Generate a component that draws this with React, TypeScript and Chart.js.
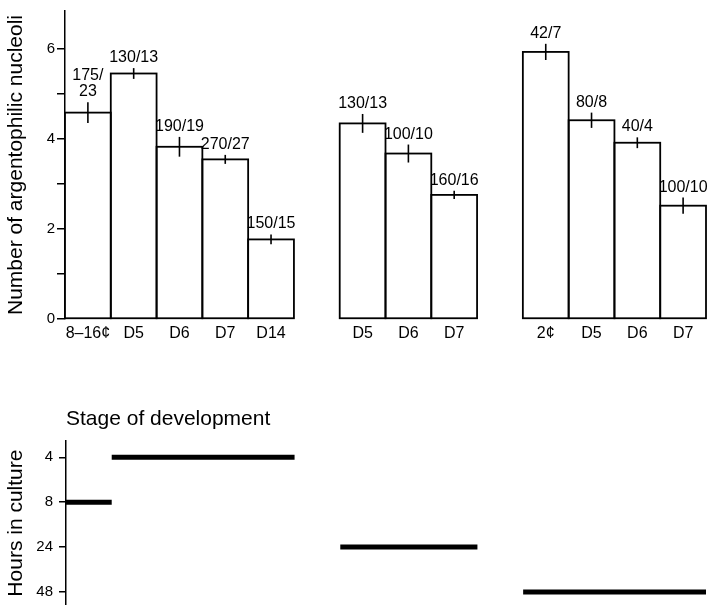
import React, { useEffect, useRef } from 'react';
import { Chart, registerables } from 'chart.js';

Chart.register(...registerables);

const FONT = '"Liberation Sans", Arial, Helvetica, sans-serif';
const INK = '#000';

// ---- top panel data ----
const stageLabels = ['8–16¢', 'D5', 'D6', 'D7', 'D14', '', 'D5', 'D6', 'D7', '', '2¢', 'D5', 'D6', 'D7'];
const nucleoliMeans: (number | null)[] = [4.59, 5.46, 3.83, 3.55, 1.77, null, 4.35, 3.68, 2.76, null, 5.94, 4.42, 3.92, 2.52];
const nucleoliErrors: (number | null)[] = [0.23, 0.12, 0.22, 0.1, 0.11, null, 0.21, 0.2, 0.09, null, 0.18, 0.17, 0.12, 0.18];
const sampleLabels = ['175/\n23', '130/13', '190/19', '270/27', '150/15', '', '130/13', '100/10', '160/16', '', '42/7', '80/8', '40/4', '100/10'];
const nucleoliMax = 6.85;

// ---- bottom panel data ----
const hoursTicks = ['4', '8', '24', '48'];
const cultureHours = ['8', '4', '24', '48'];
const spanStart = [0, 1, 6, 10];
const spanEnd = [1, 5, 9, 14];

const barDecor = {
  id: 'barDecor',
  afterDatasetsDraw(chart: any) {
    const ctx = chart.ctx;
    const meta = chart.getDatasetMeta(0);
    const ys = chart.scales.y;
    ctx.save();
    meta.data.forEach((el: any, i: number) => {
      const v = nucleoliMeans[i];
      if (v == null) return;
      const { x, y: top, base, width } = el.getProps(['x', 'y', 'base', 'width'], true);
      ctx.strokeStyle = INK;
      ctx.lineWidth = 1.8;
      ctx.strokeRect(x - width / 2, top, width, base - top);
      const e = nucleoliErrors[i] ?? 0;
      const hi = ys.getPixelForValue(v + e);
      const lo = ys.getPixelForValue(v - e);
      ctx.lineWidth = 1.6;
      ctx.beginPath();
      ctx.moveTo(x, hi);
      ctx.lineTo(x, lo);
      ctx.stroke();
      ctx.fillStyle = INK;
      ctx.font = `16px ${FONT}`;
      ctx.textAlign = 'center';
      ctx.textBaseline = 'alphabetic';
      const lines = sampleLabels[i].split('\n');
      lines.forEach((ln, k) => {
        ctx.fillText(ln, x, hi - 6 - (lines.length - 1 - k) * 16);
      });
    });
    ctx.restore();
  },
};

export default function App() {
  const topRef = useRef<HTMLCanvasElement>(null);
  const botRef = useRef<HTMLCanvasElement>(null);

  useEffect(() => {
    const top = new Chart(topRef.current as HTMLCanvasElement, {
      type: 'bar',
      data: {
        labels: stageLabels,
        datasets: [
          {
            data: nucleoliMeans as any,
            backgroundColor: '#fff',
            borderWidth: 0,
            barPercentage: 1,
            categoryPercentage: 1,
          },
        ],
      },
      options: {
        animation: false,
        responsive: false,
        maintainAspectRatio: false,
        layout: { padding: { top: 10, right: 9, left: 0, bottom: 0 } },
        plugins: { legend: { display: false }, tooltip: { enabled: false } },
        scales: {
          x: {
            grid: { display: false, drawTicks: false },
            border: { display: false },
            ticks: {
              autoSkip: false,
              maxRotation: 0,
              color: INK,
              font: { family: FONT, size: 16 },
              padding: 5,
            },
            afterFit: (s: any) => {
              s.height = 31;
            },
          },
          y: {
            min: 0,
            max: nucleoliMax,
            ticks: {
              stepSize: 1,
              includeBounds: false,
              callback: (v: any) => (Number(v) % 2 === 0 ? String(v) : ''),
              color: INK,
              font: { family: FONT, size: 15 },
              padding: 2,
            },
            grid: { drawOnChartArea: false, drawTicks: true, tickLength: 8, color: INK, lineWidth: 1.5 },
            border: { display: true, color: INK, width: 1.5 },
            title: {
              display: true,
              text: 'Number of argentophilic nucleoli',
              color: INK,
              font: { family: FONT, size: 21 },
              padding: { top: 4, bottom: 0 },
            },
            afterFit: (s: any) => {
              s.width = 65;
            },
          },
        },
      },
      plugins: [barDecor],
    } as any);

    const bot = new Chart(botRef.current as HTMLCanvasElement, {
      type: 'line',
      data: {
        datasets: cultureHours.map((h, i) => ({
          data: [
            { x: spanStart[i], y: hoursTicks.indexOf(h) },
            { x: spanEnd[i], y: hoursTicks.indexOf(h) },
          ],
          borderColor: INK,
          borderWidth: 5,
          pointRadius: 0,
          borderCapStyle: 'butt',
        })),
      },
      options: {
        animation: false,
        responsive: false,
        maintainAspectRatio: false,
        layout: { padding: { top: 0, right: 9, left: 0, bottom: 0 } },
        plugins: {
          legend: { display: false },
          tooltip: { enabled: false },
          title: {
            display: true,
            text: 'Stage of development',
            align: 'start',
            fullSize: false,
            color: INK,
            font: { family: FONT, size: 21, weight: 'normal' },
            padding: { top: 27, bottom: 9 },
          },
        },
        scales: {
          x: { type: 'linear', min: 0, max: 14, display: false },
          y: {
            type: 'linear',
            reverse: true,
            min: -0.36,
            max: 3.29,
            ticks: {
              stepSize: 1,
              includeBounds: false,
              callback: (v: any) => hoursTicks[Number(v)] ?? '',
              color: INK,
              font: { family: FONT, size: 15 },
              padding: 6,
            },
            grid: { drawOnChartArea: false, drawTicks: true, tickLength: 7, color: INK, lineWidth: 1.5 },
            border: { display: true, color: INK, width: 1.5 },
            title: {
              display: true,
              text: 'Hours in culture',
              color: INK,
              font: { family: FONT, size: 21 },
              padding: { top: 4, bottom: 0 },
            },
            afterFit: (s: any) => {
              s.width = 66;
            },
          },
        },
      },
    } as any);

    return () => {
      top.destroy();
      bot.destroy();
    };
  }, []);

  return (
    <div style={{ position: 'absolute', left: 0, top: 0, width: 715, height: 605, background: '#fff', overflow: 'hidden' }}>
      <canvas ref={topRef} width={715} height={350} style={{ position: 'absolute', left: 0, top: 0, width: 715, height: 350 }} />
      <canvas ref={botRef} width={715} height={240} style={{ position: 'absolute', left: 0, top: 380, width: 715, height: 240 }} />
    </div>
  );
}
